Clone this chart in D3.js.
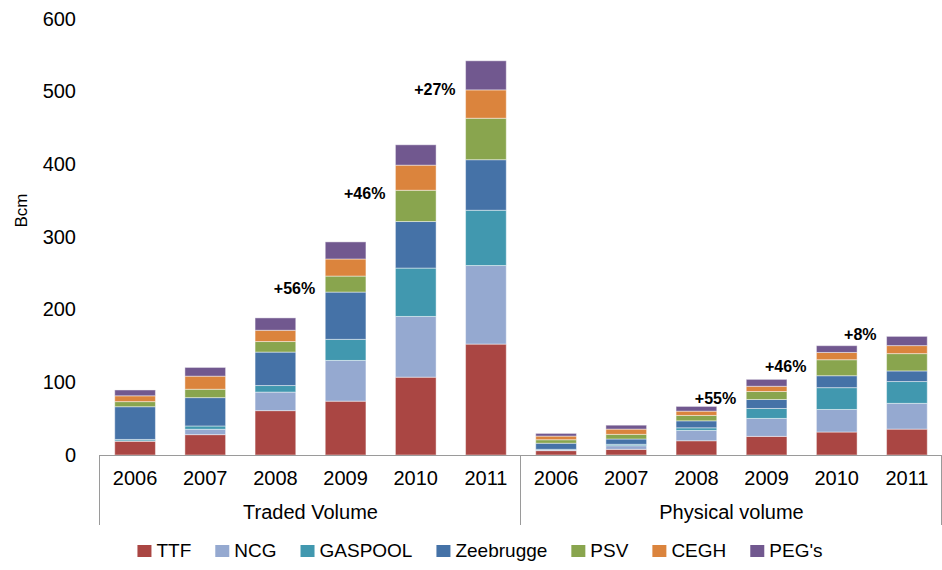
<!DOCTYPE html>
<html>
<head>
<meta charset="utf-8">
<script src="https://cdn.jsdelivr.net/npm/d3@7"></script>
<style>
    body { margin: 0; background: #fff; }
    svg { font-family: "Liberation Sans", Arial, sans-serif; }
</style>
</head>
<body>
<div id="chart"></div>
<script>
// data (Bcm)
const years = ['2006', '2007', '2008', '2009', '2010', '2011'];
const groups = ['Traded Volume', 'Physical volume'];
const seriesNames = ['TTF', 'NCG', 'GASPOOL', 'Zeebrugge', 'PSV', 'CEGH', "PEG's"];
const seriesColors = ['#AA4643', '#95A9D0', '#4198AF', '#4572A7', '#89A54E', '#DB843D', '#71588F'];

// first 6 values = traded, last 6 = physical
const ttf       = [19,  28,   61,   74,   107,  152.5, 6,   7.8, 19.6, 25.6, 31.6, 35.6];
const ncg       = [0.4, 7.4,  25.5, 56,   83.5, 108,   0.8, 5,   14.2, 24.7, 31,   35.4];
const gaspool   = [2,   4.5,  9,    29,   66.5, 76,    1,   1.9, 3.6,  13.7, 30,   30];
const zeebrugge = [45,  39,   46,   65,   64,   69.5,  8.4, 7.3, 9.6,  12.3, 16.4, 14.6];
const psv       = [7,   11.5, 14.5, 22,   43,   57,    4.8, 6.4, 7.4,  11,   22,   23.8];
const cegh      = [8,   18,   15.5, 23.5, 34.5, 39,    5,   7.2, 5.9,  7.2,  10,   11];
const pegs      = [8,   12,   17,   23.5, 28,   40,    3.7, 5.4, 6.5,  9.5,  9.3,  12.7];

const yTicks = [0, 100, 200, 300, 400, 500, 600];

// growth labels: category index, text, height (Bcm)
const annoCat = [3, 4, 5, 9, 10, 11];
const annoText = ['+56%', '+46%', '+27%', '+55%', '+46%', '+8%'];
const annoValue = [229.6, 360, 502, 78.4, 122.4, 166.4];

const width = 942, height = 570;
const margin = { top: 18.6, right: 0, bottom: 115, left: 100 };

const svg = d3.select('#chart').append('svg')
    .attr('width', width)
    .attr('height', height);

// categories: group x year
const cats = [];
groups.forEach(g => years.forEach(y => cats.push(g + '|' + y)));

const allSeries = [ttf, ncg, gaspool, zeebrugge, psv, cegh, pegs];
const table = cats.map((c, i) => {
    const row = { cat: c };
    seriesNames.forEach((s, j) => { row[s] = allSeries[j][i]; });
    return row;
});

const x = d3.scaleBand()
    .domain(cats)
    .range([margin.left, width - margin.right])
    .paddingInner(0.42)
    .paddingOuter(0.21);

const y = d3.scaleLinear()
    .domain([0, 600])
    .range([height - margin.bottom, margin.top]);

const baseY = y(0);

// y tick labels (no gridlines, no axis line)
const yAxis = svg.append('g')
    .attr('transform', `translate(${margin.left},0)`)
    .call(d3.axisLeft(y).tickValues(yTicks).tickSize(0).tickPadding(24));
yAxis.select('.domain').remove();
yAxis.selectAll('text')
    .attr('font-size', 20)
    .attr('font-family', '"Liberation Sans", Arial, sans-serif')
    .attr('fill', '#000');

svg.append('text')
    .attr('transform', `translate(27,210.5) rotate(-90)`)
    .attr('text-anchor', 'middle')
    .attr('font-size', 17)
    .text('Bcm');

// stacked bars
const stacked = d3.stack().keys(seriesNames)(table);

svg.append('g')
    .selectAll('g')
    .data(stacked)
    .join('g')
    .attr('fill', (d, i) => seriesColors[i])
    .selectAll('rect')
    .data(d => d)
    .join('rect')
    .attr('x', d => x(d.data.cat))
    .attr('y', d => y(d[1]))
    .attr('width', x.bandwidth())
    .attr('height', d => y(d[0]) - y(d[1]))
    .attr('stroke', 'rgba(255,255,255,0.45)')
    .attr('stroke-width', 1);

// category axis
const axisColor = '#9a9a9a';
svg.append('line')
    .attr('x1', margin.left).attr('x2', width)
    .attr('y1', baseY + 0.5).attr('y2', baseY + 0.5)
    .attr('stroke', axisColor);

const groupEdges = [0, years.length, cats.length].map(i => {
    if (i === cats.length) return x.range()[1];
    return x.range()[0] + i * x.step();
});
svg.selectAll('line.sep')
    .data(groupEdges)
    .join('line')
    .attr('class', 'sep')
    .attr('x1', d => Math.round(d) - 0.5).attr('x2', d => Math.round(d) - 0.5)
    .attr('y1', baseY).attr('y2', baseY + 70)
    .attr('stroke', axisColor);

svg.selectAll('text.year')
    .data(cats)
    .join('text')
    .attr('class', 'year')
    .attr('x', d => x(d) + x.bandwidth() / 2)
    .attr('y', baseY + 29.5)
    .attr('text-anchor', 'middle')
    .attr('font-size', 20)
    .text(d => d.split('|')[1]);

svg.selectAll('text.group')
    .data(groups)
    .join('text')
    .attr('class', 'group')
    .attr('x', (d, i) => (groupEdges[i] + groupEdges[i + 1]) / 2)
    .attr('y', baseY + 64)
    .attr('text-anchor', 'middle')
    .attr('font-size', 20)
    .text(d => d);

// growth annotations
svg.selectAll('text.anno')
    .data(annoCat)
    .join('text')
    .attr('class', 'anno')
    .attr('x', d => x(cats[d]) - 10)
    .attr('y', (d, i) => y(annoValue[i]))
    .attr('dy', '0.35em')
    .attr('text-anchor', 'end')
    .attr('font-size', 16)
    .attr('font-weight', 'bold')
    .text((d, i) => annoText[i]);

// legend
const legend = svg.append('g');
let lx = 0;
seriesNames.forEach((s, i) => {
    const item = legend.append('g').attr('transform', `translate(${lx},0)`);
    item.append('rect')
        .attr('x', 0).attr('y', -12)
        .attr('width', 14).attr('height', 12)
        .attr('fill', seriesColors[i]);
    const t = item.append('text')
        .attr('x', 19).attr('y', 0)
        .attr('font-size', 19)
        .text(s);
    lx += 19 + t.node().getComputedTextLength() + 24;
});
const legendWidth = lx - 24;
legend.attr('transform', `translate(${480 - legendWidth / 2},557)`);
</script>
</body>
</html>
